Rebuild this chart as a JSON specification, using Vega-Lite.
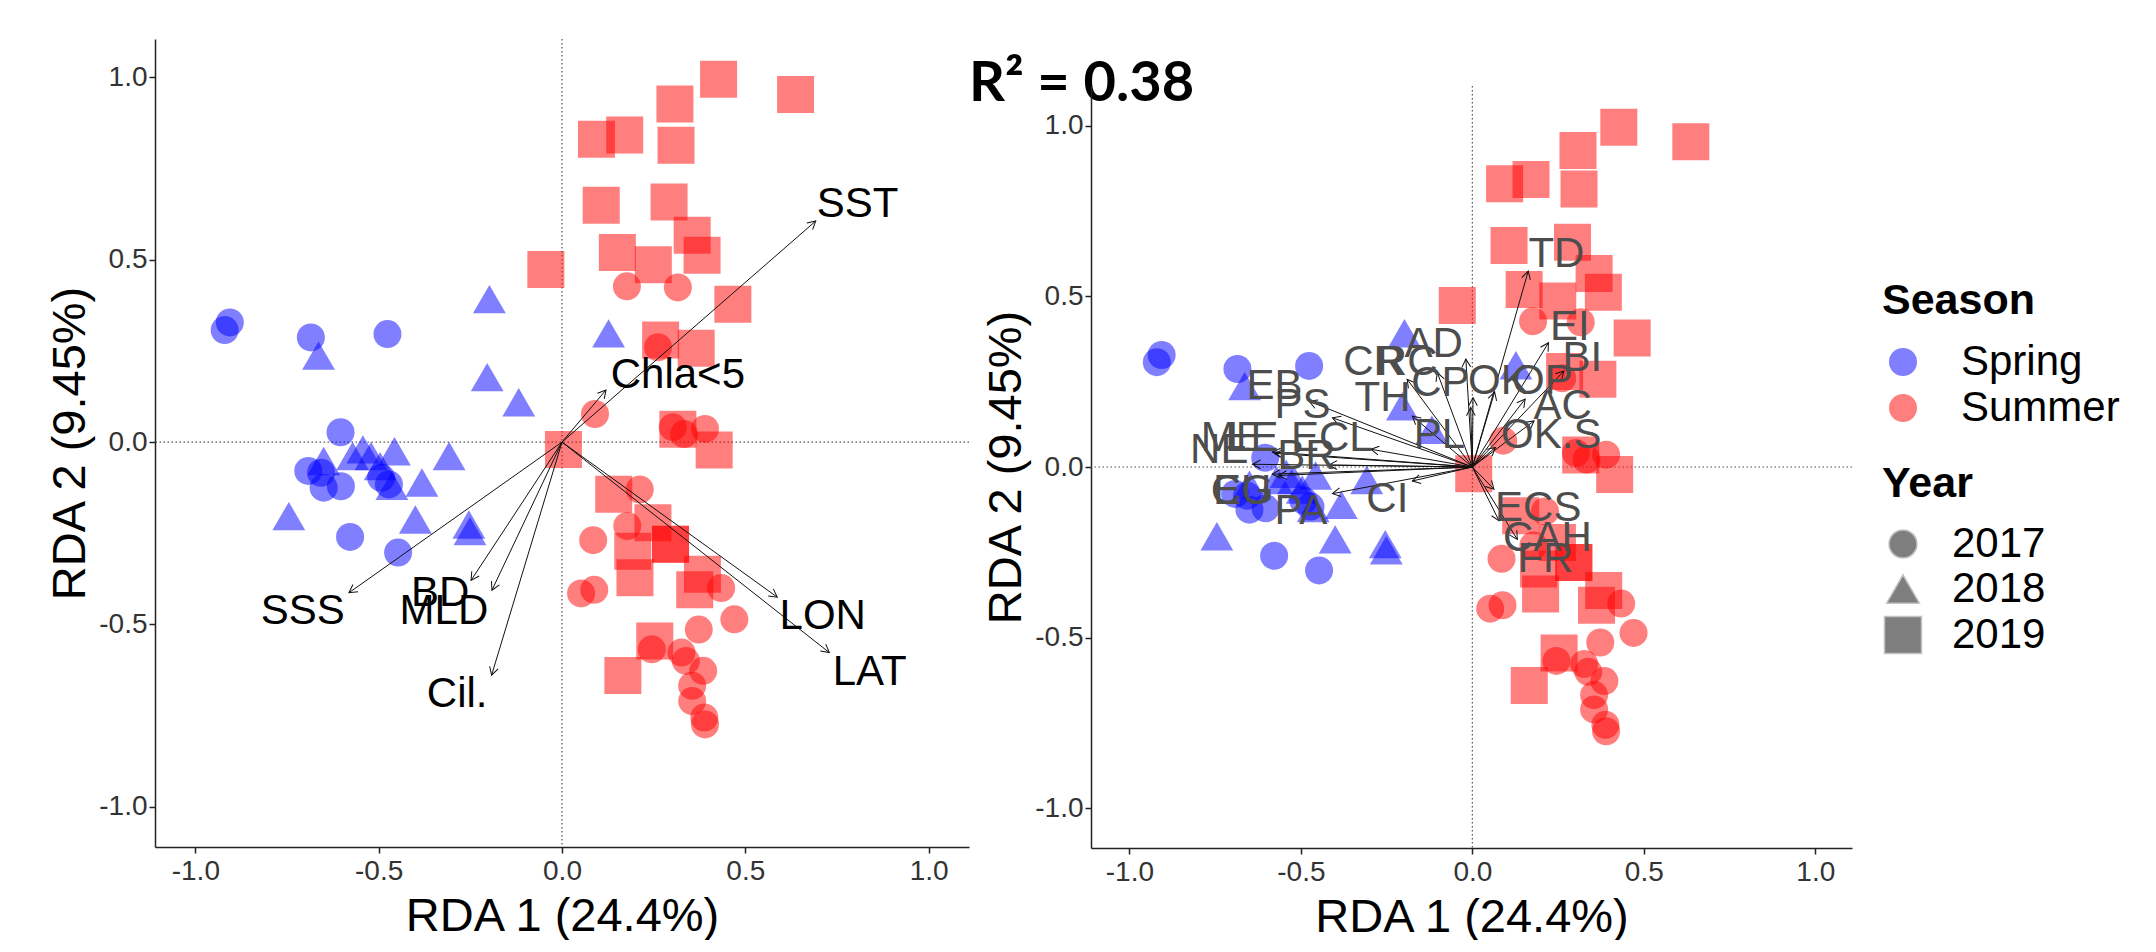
{
  "$schema": "https://vega.github.io/schema/vega-lite/v6.json",
  "background": "white",
  "padding": {"left": 46, "top": 38, "right": 0, "bottom": 0},
  "datasets": {
    "sites": [
      {"RDA1": -0.920, "RDA2": 0.307, "Season": "Spring", "Year": "2017"},
      {"RDA1": -0.906, "RDA2": 0.328, "Season": "Spring", "Year": "2017"},
      {"RDA1": -0.685, "RDA2": 0.287, "Season": "Spring", "Year": "2017"},
      {"RDA1": -0.476, "RDA2": 0.296, "Season": "Spring", "Year": "2017"},
      {"RDA1": -0.604, "RDA2": 0.027, "Season": "Spring", "Year": "2017"},
      {"RDA1": -0.692, "RDA2": -0.079, "Season": "Spring", "Year": "2017"},
      {"RDA1": -0.657, "RDA2": -0.084, "Season": "Spring", "Year": "2017"},
      {"RDA1": -0.650, "RDA2": -0.125, "Season": "Spring", "Year": "2017"},
      {"RDA1": -0.603, "RDA2": -0.121, "Season": "Spring", "Year": "2017"},
      {"RDA1": -0.493, "RDA2": -0.098, "Season": "Spring", "Year": "2017"},
      {"RDA1": -0.472, "RDA2": -0.116, "Season": "Spring", "Year": "2017"},
      {"RDA1": -0.578, "RDA2": -0.260, "Season": "Spring", "Year": "2017"},
      {"RDA1": -0.447, "RDA2": -0.303, "Season": "Spring", "Year": "2017"},
      {"RDA1": -0.664, "RDA2": 0.237, "Season": "Spring", "Year": "2018"},
      {"RDA1": -0.198, "RDA2": 0.392, "Season": "Spring", "Year": "2018"},
      {"RDA1": 0.127, "RDA2": 0.298, "Season": "Spring", "Year": "2018"},
      {"RDA1": -0.204, "RDA2": 0.178, "Season": "Spring", "Year": "2018"},
      {"RDA1": -0.118, "RDA2": 0.109, "Season": "Spring", "Year": "2018"},
      {"RDA1": -0.543, "RDA2": -0.020, "Season": "Spring", "Year": "2018"},
      {"RDA1": -0.457, "RDA2": -0.025, "Season": "Spring", "Year": "2018"},
      {"RDA1": -0.308, "RDA2": -0.038, "Season": "Spring", "Year": "2018"},
      {"RDA1": -0.650, "RDA2": -0.052, "Season": "Spring", "Year": "2018"},
      {"RDA1": -0.571, "RDA2": -0.038, "Season": "Spring", "Year": "2018"},
      {"RDA1": -0.521, "RDA2": -0.038, "Season": "Spring", "Year": "2018"},
      {"RDA1": -0.496, "RDA2": -0.066, "Season": "Spring", "Year": "2018"},
      {"RDA1": -0.464, "RDA2": -0.120, "Season": "Spring", "Year": "2018"},
      {"RDA1": -0.382, "RDA2": -0.111, "Season": "Spring", "Year": "2018"},
      {"RDA1": -0.745, "RDA2": -0.203, "Season": "Spring", "Year": "2018"},
      {"RDA1": -0.400, "RDA2": -0.212, "Season": "Spring", "Year": "2018"},
      {"RDA1": -0.254, "RDA2": -0.226, "Season": "Spring", "Year": "2018"},
      {"RDA1": -0.251, "RDA2": -0.244, "Season": "Spring", "Year": "2018"},
      {"RDA1": 0.177, "RDA2": 0.427, "Season": "Summer", "Year": "2017"},
      {"RDA1": 0.316, "RDA2": 0.424, "Season": "Summer", "Year": "2017"},
      {"RDA1": 0.262, "RDA2": 0.260, "Season": "Summer", "Year": "2017"},
      {"RDA1": 0.090, "RDA2": 0.077, "Season": "Summer", "Year": "2017"},
      {"RDA1": 0.302, "RDA2": 0.041, "Season": "Summer", "Year": "2017"},
      {"RDA1": 0.333, "RDA2": 0.022, "Season": "Summer", "Year": "2017"},
      {"RDA1": 0.390, "RDA2": 0.036, "Season": "Summer", "Year": "2017"},
      {"RDA1": 0.212, "RDA2": -0.130, "Season": "Summer", "Year": "2017"},
      {"RDA1": 0.178, "RDA2": -0.230, "Season": "Summer", "Year": "2017"},
      {"RDA1": 0.085, "RDA2": -0.269, "Season": "Summer", "Year": "2017"},
      {"RDA1": 0.434, "RDA2": -0.400, "Season": "Summer", "Year": "2017"},
      {"RDA1": 0.052, "RDA2": -0.415, "Season": "Summer", "Year": "2017"},
      {"RDA1": 0.088, "RDA2": -0.405, "Season": "Summer", "Year": "2017"},
      {"RDA1": 0.470, "RDA2": -0.486, "Season": "Summer", "Year": "2017"},
      {"RDA1": 0.373, "RDA2": -0.514, "Season": "Summer", "Year": "2017"},
      {"RDA1": 0.245, "RDA2": -0.568, "Season": "Summer", "Year": "2017"},
      {"RDA1": 0.326, "RDA2": -0.577, "Season": "Summer", "Year": "2017"},
      {"RDA1": 0.338, "RDA2": -0.600, "Season": "Summer", "Year": "2017"},
      {"RDA1": 0.385, "RDA2": -0.627, "Season": "Summer", "Year": "2017"},
      {"RDA1": 0.355, "RDA2": -0.668, "Season": "Summer", "Year": "2017"},
      {"RDA1": 0.355, "RDA2": -0.710, "Season": "Summer", "Year": "2017"},
      {"RDA1": 0.388, "RDA2": -0.755, "Season": "Summer", "Year": "2017"},
      {"RDA1": 0.390, "RDA2": -0.774, "Season": "Summer", "Year": "2017"},
      {"RDA1": 0.427, "RDA2": 0.995, "Season": "Summer", "Year": "2019"},
      {"RDA1": 0.637, "RDA2": 0.953, "Season": "Summer", "Year": "2019"},
      {"RDA1": 0.308, "RDA2": 0.927, "Season": "Summer", "Year": "2019"},
      {"RDA1": 0.094, "RDA2": 0.830, "Season": "Summer", "Year": "2019"},
      {"RDA1": 0.171, "RDA2": 0.842, "Season": "Summer", "Year": "2019"},
      {"RDA1": 0.311, "RDA2": 0.814, "Season": "Summer", "Year": "2019"},
      {"RDA1": 0.107, "RDA2": 0.649, "Season": "Summer", "Year": "2019"},
      {"RDA1": 0.292, "RDA2": 0.658, "Season": "Summer", "Year": "2019"},
      {"RDA1": 0.355, "RDA2": 0.567, "Season": "Summer", "Year": "2019"},
      {"RDA1": 0.382, "RDA2": 0.512, "Season": "Summer", "Year": "2019"},
      {"RDA1": 0.151, "RDA2": 0.520, "Season": "Summer", "Year": "2019"},
      {"RDA1": 0.249, "RDA2": 0.486, "Season": "Summer", "Year": "2019"},
      {"RDA1": -0.044, "RDA2": 0.473, "Season": "Summer", "Year": "2019"},
      {"RDA1": 0.466, "RDA2": 0.378, "Season": "Summer", "Year": "2019"},
      {"RDA1": 0.269, "RDA2": 0.280, "Season": "Summer", "Year": "2019"},
      {"RDA1": 0.366, "RDA2": 0.257, "Season": "Summer", "Year": "2019"},
      {"RDA1": 0.004, "RDA2": -0.020, "Season": "Summer", "Year": "2019"},
      {"RDA1": 0.415, "RDA2": -0.022, "Season": "Summer", "Year": "2019"},
      {"RDA1": 0.316, "RDA2": 0.035, "Season": "Summer", "Year": "2019"},
      {"RDA1": 0.141, "RDA2": -0.143, "Season": "Summer", "Year": "2019"},
      {"RDA1": 0.248, "RDA2": -0.221, "Season": "Summer", "Year": "2019"},
      {"RDA1": 0.296, "RDA2": -0.280, "Season": "Summer", "Year": "2019"},
      {"RDA1": 0.296, "RDA2": -0.280, "Season": "Summer", "Year": "2019"},
      {"RDA1": 0.193, "RDA2": -0.299, "Season": "Summer", "Year": "2019"},
      {"RDA1": 0.199, "RDA2": -0.372, "Season": "Summer", "Year": "2019"},
      {"RDA1": 0.383, "RDA2": -0.362, "Season": "Summer", "Year": "2019"},
      {"RDA1": 0.362, "RDA2": -0.405, "Season": "Summer", "Year": "2019"},
      {"RDA1": 0.253, "RDA2": -0.545, "Season": "Summer", "Year": "2019"},
      {"RDA1": 0.166, "RDA2": -0.640, "Season": "Summer", "Year": "2019"}
    ],
    "env": [
      {"label": "SST", "x": 0.692, "y": 0.606, "lx": 0.806, "ly": 0.652},
      {"label": "Chla<5", "x": 0.120, "y": 0.143, "lx": 0.316, "ly": 0.184},
      {"label": "SSS", "x": -0.581, "y": -0.413, "lx": -0.707, "ly": -0.463},
      {"label": "BD", "x": -0.248, "y": -0.379, "lx": -0.332, "ly": -0.415},
      {"label": "MLD", "x": -0.191, "y": -0.406, "lx": -0.322, "ly": -0.463},
      {"label": "Cil.", "x": -0.192, "y": -0.639, "lx": -0.286, "ly": -0.691},
      {"label": "LON", "x": 0.587, "y": -0.425, "lx": 0.711, "ly": -0.477},
      {"label": "LAT", "x": 0.729, "y": -0.577, "lx": 0.839, "ly": -0.629}
    ],
    "spp": [
      {"label": "TD", "x": 0.163, "y": 0.574, "lx": 0.245, "ly": 0.623},
      {"label": "EI", "x": 0.222, "y": 0.364, "lx": 0.284, "ly": 0.411},
      {"label": "BI", "x": 0.267, "y": 0.281, "lx": 0.321, "ly": 0.319},
      {"label": "OP", "x": 0.154, "y": 0.199, "lx": 0.204, "ly": 0.253},
      {"label": "OK", "x": 0.065, "y": 0.220, "lx": 0.076, "ly": 0.253},
      {"label": "AC", "x": 0.180, "y": 0.135, "lx": 0.263, "ly": 0.180},
      {"label": "OK.S", "x": 0.067, "y": 0.057, "lx": 0.230, "ly": 0.094},
      {"label": "ECS", "x": 0.063, "y": -0.065, "lx": 0.192, "ly": -0.120},
      {"label": "CAH", "x": 0.078, "y": -0.158, "lx": 0.219, "ly": -0.208},
      {"label": "FR", "x": 0.131, "y": -0.212, "lx": 0.213, "ly": -0.270},
      {"label": "AD", "x": -0.019, "y": 0.316, "lx": -0.113, "ly": 0.360},
      {"label": "CR", "x": -0.190, "y": 0.257, "lx": -0.288, "ly": 0.307},
      {"label": "RC", "x": -0.102, "y": 0.276, "lx": -0.190, "ly": 0.307},
      {"label": "CP", "x": 0.002, "y": 0.203, "lx": -0.093, "ly": 0.245},
      {"label": "TH", "x": -0.175, "y": 0.149, "lx": -0.262, "ly": 0.202},
      {"label": "PL", "x": -0.005, "y": 0.174, "lx": -0.096, "ly": 0.094},
      {"label": "EB", "x": -0.476, "y": 0.193, "lx": -0.577, "ly": 0.237},
      {"label": "PS", "x": -0.408, "y": 0.144, "lx": -0.495, "ly": 0.182},
      {"label": "ECL", "x": -0.296, "y": 0.052, "lx": -0.410, "ly": 0.085},
      {"label": "ME", "x": -0.583, "y": 0.044, "lx": -0.700, "ly": 0.085},
      {"label": "LE", "x": -0.575, "y": 0.040, "lx": -0.640, "ly": 0.085},
      {"label": "NE", "x": -0.641, "y": 0.008, "lx": -0.738, "ly": 0.050},
      {"label": "BR", "x": -0.418, "y": 0.006, "lx": -0.484, "ly": 0.032},
      {"label": "EU", "x": -0.583, "y": -0.021, "lx": -0.671, "ly": -0.070},
      {"label": "CG", "x": -0.565, "y": -0.025, "lx": -0.671, "ly": -0.070},
      {"label": "PA", "x": -0.408, "y": -0.078, "lx": -0.500, "ly": -0.129},
      {"label": "CI", "x": -0.175, "y": -0.041, "lx": -0.248, "ly": -0.094}
    ],
    "note": [{"label": "R² = 0.38"}]
  },
  "config": {
    "font": "Liberation Sans",
    "view": {"stroke": null},
    "axis": {
      "grid": false,
      "domainColor": "#222222",
      "domainWidth": 1.5,
      "tickColor": "#222222",
      "tickWidth": 1.5,
      "tickSize": 6,
      "labelFont": "Liberation Sans",
      "labelFontSize": 28,
      "labelColor": "#333333",
      "titleFont": "Liberation Sans",
      "titleFontSize": 47,
      "titleFontWeight": "normal",
      "titleColor": "#000000",
      "labelExpr": "datum.value < 0 ? '-' + format(-datum.value, '.1f') : format(datum.value, '.1f')"
    },
    "axisX": {"labelPadding": 4, "titlePadding": 8},
    "axisY": {"labelPadding": 2, "titlePadding": 4},
    "legend": {
      "orient": "none",
      "padding": 0,
      "labelFont": "Liberation Sans",
      "labelFontSize": 42,
      "labelColor": "#000000",
      "titleFont": "Liberation Sans",
      "titleFontSize": 43,
      "titleFontWeight": "bold",
      "titleColor": "#000000"
    }
  },
  "spacing": 122,
  "bounds": "flush",
  "resolve": {
    "scale": {"x": "independent", "y": "independent", "color": "shared", "shape": "shared", "size": "shared"},
    "legend": {"color": "shared", "shape": "shared", "size": "shared"}
  },
  "hconcat": [
    {
      "width": 814,
      "height": 808,
      "layer": [
        {
          "data": {"values": [{"ref": 0}]},
          "mark": {"type": "rule", "strokeDash": [1.5, 2.5], "color": "#555555", "strokeWidth": 1.2},
          "encoding": {"x": {"field": "ref", "type": "quantitative", "scale": {"domain": [-1.11, 1.11], "nice": false, "zero": false}, "axis": {"values": [-1, -0.5, 0, 0.5, 1], "title": "RDA 1 (24.4%)"}}}
        },
        {
          "data": {"values": [{"ref": 0}]},
          "mark": {"type": "rule", "strokeDash": [1.5, 2.5], "color": "#555555", "strokeWidth": 1.2},
          "encoding": {"y": {"field": "ref", "type": "quantitative", "scale": {"domain": [-1.11, 1.105], "nice": false, "zero": false}, "axis": {"values": [-1, -0.5, 0, 0.5, 1], "title": "RDA 2 (9.45%)"}}}
        },
        {
          "data": {"name": "sites"},
          "mark": {"type": "point", "filled": true, "opacity": 0.5, "strokeWidth": 0},
          "encoding": {
            "x": {"field": "RDA1", "type": "quantitative", "scale": {"domain": [-1.11, 1.11], "nice": false, "zero": false}, "axis": {"values": [-1, -0.5, 0, 0.5, 1], "title": "RDA 1 (24.4%)"}},
            "y": {"field": "RDA2", "type": "quantitative", "scale": {"domain": [-1.11, 1.105], "nice": false, "zero": false}, "axis": {"values": [-1, -0.5, 0, 0.5, 1], "title": "RDA 2 (9.45%)"}},
            "color": {"field": "Season", "type": "nominal", "scale": {"domain": ["Spring", "Summer"], "range": ["#0000ff", "#ff0000"]}, "legend": {"title": "Season", "legendX": 1727, "legendY": 241, "symbolType": "circle", "symbolSize": 784, "labelOffset": 37, "rowPadding": 4, "titlePadding": 18}},
            "shape": {"field": "Year", "type": "nominal", "scale": {"domain": ["2017", "2018", "2019"], "range": ["circle", "triangle-up", "square"]}, "legend": {"title": "Year", "legendX": 1727, "legendY": 424, "symbolFillColor": "#000000", "labelOffset": 28, "rowPadding": 3, "titlePadding": 17}},
            "size": {"field": "Year", "type": "nominal", "scale": {"domain": ["2017", "2018", "2019"], "range": [784, 1369, 784]}, "legend": {"title": "Year", "legendX": 1727, "legendY": 424, "symbolFillColor": "#000000", "labelOffset": 28, "rowPadding": 3, "titlePadding": 17}}
          }
        },
        {
          "data": {"name": "env"},
          "mark": {"type": "rule", "color": "#111111", "strokeWidth": 1},
          "encoding": {
            "x": {"field": "x", "type": "quantitative"},
            "y": {"field": "y", "type": "quantitative"},
            "x2": {"datum": 0},
            "y2": {"datum": 0}
          }
        },
        {
          "data": {"name": "env"},
          "transform": [{"calculate": "atan2(datum.x, datum.y) * 180 / PI", "as": "ang"}],
          "mark": {"type": "point", "filled": false, "shape": "M-0.55,1L0,0L0.55,1", "size": 256, "color": "#111111", "strokeWidth": 1, "opacity": 1},
          "encoding": {
            "x": {"field": "x", "type": "quantitative"},
            "y": {"field": "y", "type": "quantitative"},
            "angle": {"field": "ang", "type": "quantitative", "scale": null}
          }
        },
        {
          "data": {"name": "env"},
          "mark": {"type": "text", "fontSize": 42, "font": "Liberation Sans", "color": "#000000", "align": "center", "baseline": "middle"},
          "encoding": {
            "x": {"field": "lx", "type": "quantitative"},
            "y": {"field": "ly", "type": "quantitative"},
            "text": {"field": "label"}
          }
        }
      ]
    },
    {
      "spacing": 0,
      "bounds": "flush",
      "vconcat": [
        {
          "width": 2,
          "height": 47,
          "data": {"name": "note"},
          "mark": {"type": "text", "font": "Lato", "fontSize": 56, "fontWeight": "bold", "color": "#000000", "align": "left", "baseline": "alphabetic", "dx": -123, "dy": 38},
          "encoding": {"text": {"field": "label"}}
        },
        {
          "width": 761,
          "height": 762,
          "layer": [
            {
              "data": {"values": [{"ref": 0}]},
              "mark": {"type": "rule", "strokeDash": [1.5, 2.5], "color": "#555555", "strokeWidth": 1.2},
              "encoding": {"x": {"field": "ref", "type": "quantitative", "scale": {"domain": [-1.112, 1.107], "nice": false, "zero": false}, "axis": {"values": [-1, -0.5, 0, 0.5, 1], "title": "RDA 1 (24.4%)"}}}
            },
            {
              "data": {"values": [{"ref": 0}]},
              "mark": {"type": "rule", "strokeDash": [1.5, 2.5], "color": "#555555", "strokeWidth": 1.2},
              "encoding": {"y": {"field": "ref", "type": "quantitative", "scale": {"domain": [-1.116, 1.116], "nice": false, "zero": false}, "axis": {"values": [-1, -0.5, 0, 0.5, 1], "title": "RDA 2 (9.45%)"}}}
            },
            {
              "data": {"name": "sites"},
              "mark": {"type": "point", "filled": true, "opacity": 0.5, "strokeWidth": 0},
              "encoding": {
                "x": {"field": "RDA1", "type": "quantitative", "scale": {"domain": [-1.112, 1.107], "nice": false, "zero": false}, "axis": {"values": [-1, -0.5, 0, 0.5, 1], "title": "RDA 1 (24.4%)"}},
                "y": {"field": "RDA2", "type": "quantitative", "scale": {"domain": [-1.116, 1.116], "nice": false, "zero": false}, "axis": {"values": [-1, -0.5, 0, 0.5, 1], "title": "RDA 2 (9.45%)"}},
                "color": {"field": "Season", "type": "nominal"},
                "shape": {"field": "Year", "type": "nominal"},
                "size": {"field": "Year", "type": "nominal"}
              }
            },
            {
              "data": {"name": "spp"},
              "mark": {"type": "rule", "color": "#111111", "strokeWidth": 1},
              "encoding": {
                "x": {"field": "x", "type": "quantitative"},
                "y": {"field": "y", "type": "quantitative"},
                "x2": {"datum": 0},
                "y2": {"datum": 0}
              }
            },
            {
              "data": {"name": "spp"},
              "transform": [{"calculate": "atan2(datum.x, datum.y) * 180 / PI", "as": "ang"}],
              "mark": {"type": "point", "filled": false, "shape": "M-0.55,1L0,0L0.55,1", "size": 256, "color": "#111111", "strokeWidth": 1, "opacity": 1},
              "encoding": {
                "x": {"field": "x", "type": "quantitative"},
                "y": {"field": "y", "type": "quantitative"},
                "angle": {"field": "ang", "type": "quantitative", "scale": null}
              }
            },
            {
              "data": {"name": "spp"},
              "mark": {"type": "text", "fontSize": 42, "font": "Liberation Sans", "color": "#4d4d4d", "align": "center", "baseline": "middle"},
              "encoding": {
                "x": {"field": "lx", "type": "quantitative"},
                "y": {"field": "ly", "type": "quantitative"},
                "text": {"field": "label"}
              }
            }
          ]
        }
      ]
    }
  ]
}
